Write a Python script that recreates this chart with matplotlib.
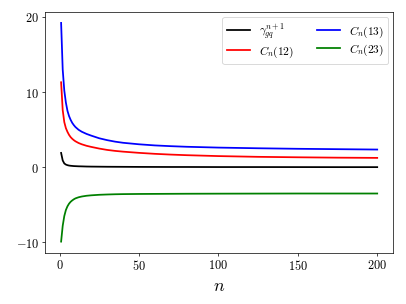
import matplotlib
matplotlib.use('Agg')
import matplotlib.pyplot as plt
from matplotlib.ticker import FuncFormatter

plt.rcParams['mathtext.fontset'] = 'cm'
plt.rcParams['font.family'] = 'serif'

# values at selected n
n = [1, 2, 3, 4, 5, 6, 7, 8, 9, 10, 12, 14, 17, 20, 25, 30, 35, 40, 50, 60,
     70, 80, 100, 125, 150, 175, 200]
gamma = [1.9, 0.9, 0.5, 0.35, 0.27, 0.22, 0.19, 0.17, 0.15, 0.14, 0.12, 0.11,
         0.09, 0.08, 0.07, 0.06, 0.055, 0.05, 0.04, 0.035, 0.03, 0.03, 0.02,
         0.02, 0.015, 0.01, 0.01]
c12 = [11.3, 7.6, 6.0, 5.2, 4.7, 4.3, 4.0, 3.78, 3.6, 3.45, 3.22, 3.05, 2.85,
       2.7, 2.48, 2.3, 2.17, 2.07, 1.91, 1.78, 1.68, 1.6, 1.48, 1.38, 1.32,
       1.27, 1.24]
c13 = [19.2, 13.0, 10.2, 8.6, 7.5, 6.8, 6.3, 5.9, 5.6, 5.35, 4.98, 4.72, 4.43,
       4.2, 3.85, 3.6, 3.4, 3.25, 3.05, 2.9, 2.8, 2.72, 2.61, 2.52, 2.45,
       2.4, 2.35]
c23 = [-9.9, -7.8, -6.5, -5.7, -5.2, -4.85, -4.6, -4.42, -4.27, -4.15, -4.0,
       -3.9, -3.8, -3.74, -3.67, -3.63, -3.6, -3.58, -3.56, -3.55, -3.54,
       -3.53, -3.52, -3.51, -3.5, -3.5, -3.5]

fig = plt.figure(figsize=(6.4, 4.8), dpi=406 / 6.4)
ax = fig.add_axes([0.1116, 0.169, 0.8564, 0.79])

ax.plot(n, gamma, color='black', lw=2, label=r'$\gamma_{gq}^{n+1}$')
ax.plot(n, c12, color='red', lw=2, label=r'$C_n(12)$')
ax.plot(n, c13, color='blue', lw=2, label=r'$C_n(13)$')
ax.plot(n, c23, color='green', lw=2, label=r'$C_n(23)$')

ax.set_xticks([0, 50, 100, 150, 200])
ax.set_yticks([-10, 0, 10, 20])
fmt = FuncFormatter(lambda v, pos: r'$%g$' % v)
ax.xaxis.set_major_formatter(fmt)
ax.yaxis.set_major_formatter(fmt)
ax.tick_params(labelsize=14)
ax.set_xlabel(r'$n$', fontsize=20)

ax.legend(ncol=2, loc='upper right', fontsize=13, labelspacing=0.25,
          borderaxespad=0.4)

fig.savefig('out.png', dpi=406 / 6.4)
